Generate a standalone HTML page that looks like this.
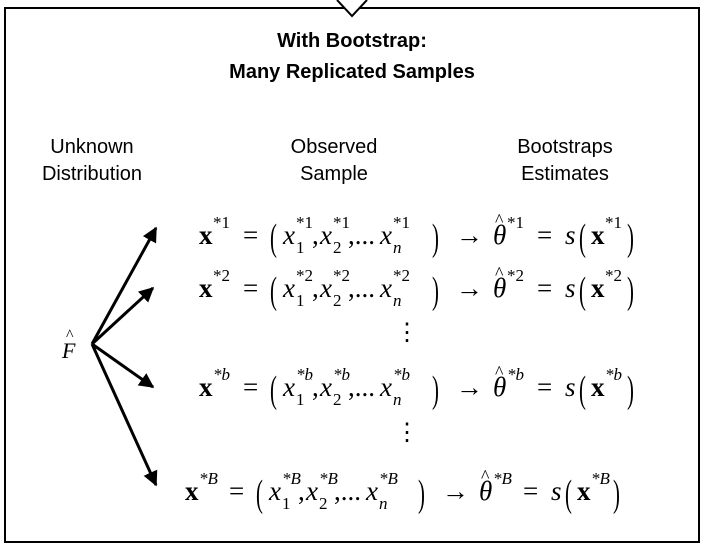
<!DOCTYPE html>
<html><head><style>body{margin:0;background:#fff}svg{display:block}</style></head><body>
<svg width="704" height="546" viewBox="0 0 704 546" xmlns="http://www.w3.org/2000/svg">
<defs><marker id="a" viewBox="0 0 10 10" refX="9" refY="5" markerWidth="5" markerHeight="5" orient="auto"><path d="M0,0L10,5L0,10z" fill="#000"/></marker></defs>
<rect x="5" y="8" width="694" height="534" fill="#fff" stroke="#000" stroke-width="2"/>
<path d="M337,0L352,16L367,0" fill="#fff" stroke="#000" stroke-width="2"/>
<g font-family="Liberation Sans, sans-serif" text-anchor="middle" fill="#000">
<text x="352" y="47" font-size="20" font-weight="bold">With Bootstrap:</text>
<text x="352" y="78" font-size="20" font-weight="bold">Many Replicated Samples</text>
<g font-size="20"><text x="92" y="153">Unknown</text><text x="92" y="180">Distribution</text>
<text x="334" y="153">Observed</text><text x="334" y="180">Sample</text>
<text x="565" y="153">Bootstraps</text><text x="565" y="180">Estimates</text></g>
</g>
<g stroke="#000" stroke-width="3" marker-end="url(#a)">
<line x1="92" y1="344" x2="156" y2="228"/><line x1="92" y1="344" x2="153" y2="288"/>
<line x1="92" y1="344" x2="153" y2="387"/><line x1="92" y1="344" x2="156" y2="485"/>
</g>
<g font-family="Liberation Serif, serif" fill="#000">
<text x="62" y="358" font-size="22" font-style="italic">F</text><text x="66" y="340" font-size="16">^</text>
<g id="r1" font-size="27">
<text x="199" y="244" font-weight="bold">x</text><text x="213" y="228" font-size="17">*1</text>
<text x="243" y="244">=</text><text font-size="26" transform="translate(270,250) scale(0.8,1.45)">(</text>
<text x="283" y="244" font-style="italic">x</text><text x="296" y="228" font-size="17">*1</text><text x="296" y="253" font-size="17">1</text>
<text x="312" y="244">,</text>
<text x="320" y="244" font-style="italic">x</text><text x="333" y="228" font-size="17">*1</text><text x="333" y="253" font-size="17">2</text>
<text x="348" y="244">,...</text>
<text x="380" y="244" font-style="italic">x</text><text x="393" y="228" font-size="17">*1</text><text x="393" y="253" font-size="17" font-style="italic">n</text>
<text font-size="26" transform="translate(432,250) scale(0.8,1.45)">)</text>
<text x="456" y="244">→</text>
<text x="493" y="244" font-style="italic">θ</text><text x="495" y="226" font-size="18">^</text><text x="507" y="228" font-size="17">*1</text>
<text x="537" y="244">=</text><text x="565" y="244" font-style="italic">s</text><text font-size="26" transform="translate(579,250) scale(0.8,1.45)">(</text>
<text x="591" y="244" font-weight="bold">x</text><text x="605" y="228" font-size="17">*1</text>
<text font-size="26" transform="translate(627,250) scale(0.8,1.45)">)</text>
</g>
<use href="#r1" y="53" />
<text x="407" y="340" font-size="24" text-anchor="middle">⋮</text>
<text x="407" y="440" font-size="24" text-anchor="middle">⋮</text>
<use href="#r1" y="152"/>
<use href="#r1" y="256" x="-14"/>
</g>
<g fill="#fff">
<rect x="212" y="262" width="20" height="20"/><rect x="295" y="262" width="16" height="20"/><rect x="332" y="262" width="16" height="20"/><rect x="392" y="262" width="16" height="20"/><rect x="506" y="262" width="22" height="20"/><rect x="604" y="262" width="20" height="20"/>
<rect x="212" y="361" width="20" height="20"/><rect x="295" y="361" width="16" height="20"/><rect x="332" y="361" width="16" height="20"/><rect x="392" y="361" width="16" height="20"/><rect x="506" y="361" width="22" height="20"/><rect x="604" y="361" width="20" height="20"/>
<rect x="198" y="465" width="20" height="20"/><rect x="281" y="465" width="16" height="20"/><rect x="318" y="465" width="16" height="20"/><rect x="378" y="465" width="16" height="20"/><rect x="492" y="465" width="22" height="20"/><rect x="590" y="465" width="20" height="20"/>
</g>
<g font-family="Liberation Serif, serif" font-size="17" fill="#000">
<text x="213" y="281">*2</text><text x="296" y="281">*2</text><text x="333" y="281">*2</text><text x="393" y="281">*2</text><text x="507" y="281">*2</text><text x="605" y="281">*2</text>
<g font-style="italic"><text x="213" y="380">*b</text><text x="296" y="380">*b</text><text x="333" y="380">*b</text><text x="393" y="380">*b</text><text x="507" y="380">*b</text><text x="605" y="380">*b</text>
<text x="199" y="484">*B</text><text x="282" y="484">*B</text><text x="319" y="484">*B</text><text x="379" y="484">*B</text><text x="493" y="484">*B</text><text x="591" y="484">*B</text></g>
</g>
</svg>
</body></html>
